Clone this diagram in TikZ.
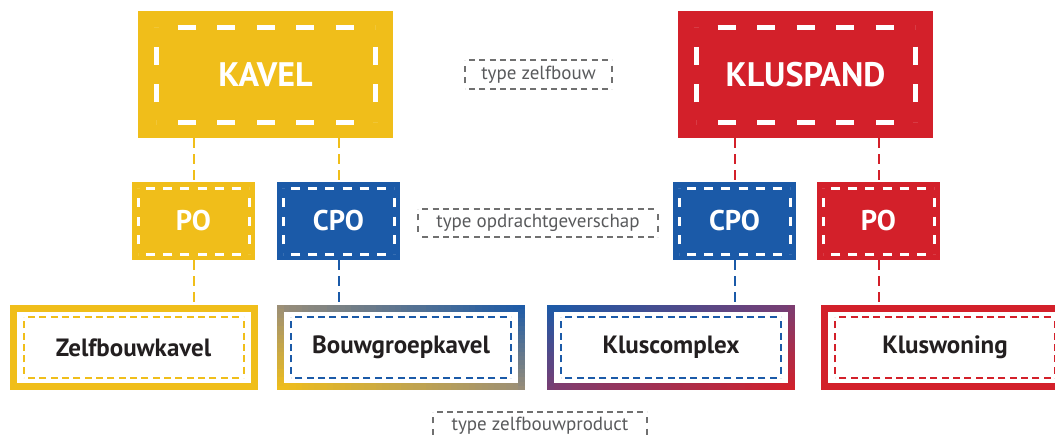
\documentclass[tikz,border=0pt]{standalone}
\usepackage{fontspec}
\setmainfont{PT Sans}
\usetikzlibrary{decorations}
\definecolor{ky}{HTML}{F0BE1A}
\definecolor{kr}{HTML}{D3202A}
\definecolor{kb}{HTML}{1B5AA8}
\definecolor{ktan}{HTML}{9A8E78}
\definecolor{kpur}{HTML}{7A3D72}
\definecolor{kg}{HTML}{707070}
\definecolor{kgt}{HTML}{595A5C}
\definecolor{kt}{HTML}{231F20}
\newcommand\dframe[7]{%
  \path ([shift={(#2,-#3)}]#1.north west) coordinate (dfa)
        ([shift={(-#2,-#3)}]#1.north east) coordinate (dfb)
        ([shift={(-#2,#3)}]#1.south east) coordinate (dfc)
        ([shift={(#2,#3)}]#1.south west) coordinate (dfd);
  \draw[#4, line width=#5pt, dash pattern=on #6pt off #7pt, dash expand off] (dfa) -- (dfb);
  \draw[#4, line width=#5pt, dash pattern=on #6pt off #7pt, dash expand off] (dfb) -- (dfc);
  \draw[#4, line width=#5pt, dash pattern=on #6pt off #7pt, dash expand off] (dfc) -- (dfd);
  \draw[#4, line width=#5pt, dash pattern=on #6pt off #7pt, dash expand off] (dfd) -- (dfa);
}
\newcommand\whitein[1]{%
  \fill[white] ([shift={(7,-7)}]#1.north west) rectangle ([shift={(-7,7)}]#1.south east);
}
% colour gc at percentage #1 along A(#2) -> M(#3) -> B(#4)
\newcommand\gsetcol[4]{%
  \ifnum#1<50 \pgfmathtruncatemacro\gq{2*#1}\colorlet{gc}{#3!\gq!#2}%
  \else\pgfmathtruncatemacro\gq{2*#1-100}\colorlet{gc}{#4!\gq!#3}\fi}
% diagonal gradient frame: cx cy w h colA colM colB dir (1: A bottom-left, -1: A top-left)
\newcommand\gradframe[8]{%
  \foreach \i in {0,...,39}{%
    \pgfmathsetmacro\gxa{#1-#3/2+\i*#3/40}%
    \pgfmathsetmacro\gxb{\gxa+#3/40+0.4}%
    \pgfmathtruncatemacro\gpt{round(100*((\i+0.5)/40 + (#8>0 ? 1 : 0))/2)}%
    \pgfmathtruncatemacro\gpb{round(100*((\i+0.5)/40 + (#8>0 ? 0 : 1))/2)}%
    \gsetcol{\gpt}{#5}{#6}{#7}%
    \fill[gc] (\gxa,#2+#4/2) rectangle (\gxb,#2+#4/2-7);
    \gsetcol{\gpb}{#5}{#6}{#7}%
    \fill[gc] (\gxa,#2-#4/2) rectangle (\gxb,#2-#4/2+7);
  }%
  \foreach \j in {0,...,19}{%
    \pgfmathsetmacro\gya{#2-#4/2+\j*#4/20}%
    \pgfmathsetmacro\gyb{min(\gya+#4/20+0.4,#2+#4/2)}%
    \pgfmathsetmacro\gvv{(\j+0.5)/20}%
    \pgfmathtruncatemacro\gpl{round(100*(0 + (#8>0 ? \gvv : 1-\gvv))/2)}%
    \pgfmathtruncatemacro\gpr{round(100*(1 + (#8>0 ? \gvv : 1-\gvv))/2)}%
    \gsetcol{\gpl}{#5}{#6}{#7}%
    \fill[gc] (#1-#3/2,\gya) rectangle (#1-#3/2+7,\gyb);
    \gsetcol{\gpr}{#5}{#6}{#7}%
    \fill[gc] (#1+#3/2-7,\gya) rectangle (#1+#3/2,\gyb);
  }%
}
\tikzset{
  topbox/.style={inner sep=0pt, outer sep=0pt, minimum width=255pt, minimum height=127pt},
  midbox/.style={inner sep=0pt, outer sep=0pt, minimum width=123pt, minimum height=78pt},
  botbox/.style={inner sep=0pt, outer sep=0pt, minimum width=248pt, minimum height=85pt},
  toptext/.style={text=white, inner sep=0pt, font=\bfseries\fontsize{34}{34}\selectfont},
  midtext/.style={text=white, inner sep=0pt, font=\bfseries\fontsize{28.5}{28.5}\selectfont},
  bottext/.style={text=kt, inner sep=0pt, font=\bfseries\fontsize{25}{25}\selectfont},
  typelabel/.style={inner sep=0pt, outer sep=0pt, text=kgt, font=\fontsize{19}{19}\selectfont},
  conn/.style={line width=2pt, dash pattern=on 10pt off 6pt},
}
\begin{document}
\begin{tikzpicture}[x=1pt, y=1pt]
\useasboundingbox (0,0) rectangle (1055,-437);
% top row
\node[topbox, fill=ky] (kavel) at (265.5,-74.5) {};
\dframe{kavel}{18}{16}{white}{5}{18}{18}
\node[toptext] (kavelt) at (kavel) {KAVEL};
\node[topbox, fill=kr] (kluspand) at (805.5,-74.5) {};
\dframe{kluspand}{18}{16}{white}{5}{18}{18}
\node[toptext] (kluspandt) at (kluspand) {KLUSPAND};
\node[typelabel, minimum width=147pt, minimum height=29pt] (tz) at (538.5,-74.5) {type zelfbouw};
\dframe{tz}{0}{0}{kg}{1.4}{6}{4}
% middle row
\node[midbox, fill=ky] (po1) at (193.5,-221) {};
\dframe{po1}{6}{6}{white}{3}{9}{7}
\node[midtext] (po1t) at (po1) {PO};
\node[midbox, fill=kb] (cpo1) at (338.5,-221) {};
\dframe{cpo1}{6}{6}{white}{3}{9}{7}
\node[midtext] (cpo1t) at (cpo1) {CPO};
\node[midbox, fill=kb] (cpo2) at (734.5,-221) {};
\dframe{cpo2}{6}{6}{white}{3}{9}{7}
\node[midtext] (cpo2t) at (cpo2) {CPO};
\node[midbox, fill=kr] (po2) at (878.5,-221) {};
\dframe{po2}{6}{6}{white}{3}{9}{7}
\node[midtext] (po2t) at (po2) {PO};
\node[typelabel, minimum width=240pt, minimum height=28pt] (to) at (538,-223) {type opdrachtgeverschap};
\dframe{to}{0}{0}{kg}{1.4}{6}{4}
% bottom row
\node[botbox, fill=ky] (zelf) at (133.5,-347.5) {};
\whitein{zelf}
\dframe{zelf}{14}{12}{ky}{2}{7}{4}
\node[bottext] (zelft) at (zelf) {Zelfbouwkavel};
\node[botbox] (bgk) at (401,-347.5) {};
\gradframe{401}{-347.5}{248}{85}{ky}{ktan}{kb}{1}
\dframe{bgk}{14}{12}{kb}{2}{7}{4}
\node[bottext] (bgkt) at (bgk) {Bouwgroepkavel};
\node[botbox] (klc) at (671,-347.5) {};
\gradframe{671}{-347.5}{248}{85}{kb}{kpur}{kr}{-1}
\dframe{klc}{14}{12}{kb}{2}{7}{4}
\node[bottext] (klct) at (klc) {Kluscomplex};
\node[botbox, fill=kr] (klw) at (945,-347.5) {};
\whitein{klw}
\dframe{klw}{14}{12}{kr}{2}{7}{4}
\node[bottext] (klwt) at (klw) {Kluswoning};
\node[typelabel, minimum width=214pt, minimum height=28pt] (tp) at (540,-426) {type zelfbouwproduct};
\dframe{tp}{0}{0}{kg}{1.4}{6}{4}
% connectors
\draw[conn, ky] (kavel.south -| po1.north) -- (po1.north);
\draw[conn, ky] (kavel.south -| cpo1.north) -- (cpo1.north);
\draw[conn, kr] (kluspand.south -| cpo2.north) -- (cpo2.north);
\draw[conn, kr] (kluspand.south -| po2.north) -- (po2.north);
\draw[conn, ky] (po1.south) -- (po1.south |- zelf.north);
\draw[conn, kb] (cpo1.south) -- (cpo1.south |- bgk.north);
\draw[conn, kb] (cpo2.south) -- (cpo2.south |- klc.north);
\draw[conn, kr] (po2.south) -- (po2.south |- klw.north);
\end{tikzpicture}
\end{document}
